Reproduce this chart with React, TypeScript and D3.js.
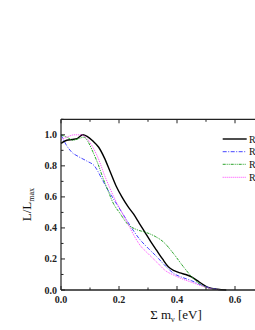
import React from "react";
import * as d3 from "d3";

const blackM = [0, 0.02, 0.04, 0.055, 0.075, 0.09, 0.11, 0.13, 0.15, 0.17, 0.19, 0.21, 0.23, 0.25, 0.27, 0.29, 0.31, 0.33, 0.35, 0.37, 0.39, 0.41, 0.43, 0.45, 0.47, 0.49, 0.51, 0.54, 0.57];
const blackV = [0.945, 0.965, 0.97, 0.975, 1.0, 0.99, 0.96, 0.92, 0.85, 0.76, 0.67, 0.6, 0.54, 0.49, 0.43, 0.37, 0.31, 0.255, 0.2, 0.15, 0.125, 0.11, 0.1, 0.085, 0.06, 0.035, 0.015, 0.005, 0];

const blueM = [0, 0.018, 0.036, 0.06, 0.09, 0.115, 0.14, 0.16, 0.18, 0.2, 0.22, 0.24, 0.27, 0.3, 0.33, 0.36, 0.39, 0.42, 0.45, 0.48, 0.51, 0.55];
const blueV = [1.0, 0.935, 0.89, 0.86, 0.83, 0.8, 0.72, 0.65, 0.59, 0.53, 0.47, 0.41, 0.33, 0.27, 0.215, 0.155, 0.105, 0.08, 0.06, 0.035, 0.015, 0];

const greenM = [0, 0.02, 0.041, 0.06, 0.08, 0.095, 0.11, 0.128, 0.145, 0.16, 0.18, 0.203, 0.232, 0.26, 0.295, 0.325, 0.353, 0.387, 0.422, 0.456, 0.49, 0.52, 0.55];
const greenV = [1.0, 0.985, 0.965, 0.975, 0.985, 0.95, 0.89, 0.81, 0.72, 0.65, 0.56, 0.495, 0.42, 0.39, 0.37, 0.345, 0.31, 0.237, 0.15, 0.075, 0.025, 0.008, 0];

const magentaM = [0, 0.02, 0.045, 0.07, 0.09, 0.105, 0.128, 0.15, 0.17, 0.19, 0.21, 0.23, 0.255, 0.272, 0.3, 0.33, 0.36, 0.39, 0.42, 0.45, 0.48, 0.51, 0.55];
const magentaV = [0.97, 0.985, 1.0, 1.0, 0.975, 0.935, 0.85, 0.74, 0.65, 0.57, 0.5, 0.43, 0.34, 0.29, 0.235, 0.18, 0.125, 0.095, 0.07, 0.05, 0.03, 0.012, 0];

const xTicks = [0, 0.2, 0.4, 0.6];
const yTicks = [0, 0.2, 0.4, 0.6, 0.8, 1.0];
const legendLabels = ["R", "R", "R", "R"];

const series = [
  { m: blackM, v: blackV, color: "#000000", width: 1.4, dash: "" },
  { m: blueM, v: blueV, color: "#3030ff", width: 0.9, dash: "4,1.5,1,1.5" },
  { m: greenM, v: greenV, color: "#119911", width: 0.9, dash: "3,1,1,1,1,1" },
  { m: magentaM, v: magentaV, color: "#ff30ff", width: 0.9, dash: "1,1" },
];

export default function App() {
  const left = 61, right = 264, top = 119.3, bottom = 290;
  const x = d3.scaleLinear().domain([0, 0.7]).range([left, right]);
  const y = d3.scaleLinear().domain([0, 1.1]).range([bottom, top]);
  const font = "Liberation Serif, DejaVu Serif, Times New Roman, serif";

  const xMinor = d3.range(0, 0.71, 0.1);
  const yMinor = d3.range(0, 1.11, 0.1);

  const line = (m: number[], v: number[]) =>
    d3.line<number>().x((_, i) => x(m[i])).y((d) => y(d)).curve(d3.curveMonotoneX)(v) || "";

  const legY = [139, 151.7, 164.3, 177.3];

  return (
    <svg width={255} height={330} style={{ position: "absolute", left: 0, top: 0, background: "#fff", fontFamily: font }}>
      {series.map((s, i) => (
        <path key={i} d={line(s.m, s.v)} fill="none" stroke={s.color} strokeWidth={s.width} strokeDasharray={s.dash || undefined} />
      ))}
      <line x1={left} x2={left} y1={top} y2={bottom} stroke="#222" strokeWidth={1.2} />
      <line x1={left} x2={right} y1={bottom} y2={bottom} stroke="#222" strokeWidth={1.4} />
      <line x1={left} x2={right} y1={top} y2={top} stroke="#222" strokeWidth={1.2} />
      {xMinor.map((t, i) => {
        const major = i % 2 === 0;
        const len = major ? 4 : 2.5;
        return (
          <g key={"xt" + i}>
            <line x1={x(t)} x2={x(t)} y1={bottom} y2={bottom - len} stroke="#222" strokeWidth={1} />
            <line x1={x(t)} x2={x(t)} y1={top} y2={top + len} stroke="#222" strokeWidth={1} />
          </g>
        );
      })}
      {yMinor.map((t, i) => {
        const major = i % 2 === 0;
        const len = major ? 4 : 2.5;
        return <line key={"yt" + i} x1={left} x2={left + len} y1={y(t)} y2={y(t)} stroke="#222" strokeWidth={1} />;
      })}
      {xTicks.map((t) => (
        <text key={"xl" + t} x={x(t)} y={303} textAnchor="middle" fontSize={10} fontWeight={600} fill="#222">
          {t.toFixed(1)}
        </text>
      ))}
      {yTicks.map((t) => (
        <text key={"yl" + t} x={57} y={y(t) + 3.5} textAnchor="end" fontSize={10} fontWeight={600} fill="#222">
          {t.toFixed(1)}
        </text>
      ))}
      <text transform={`translate(31,${(top + bottom) / 2}) rotate(-90)`} textAnchor="middle" fontSize={13} fill="#111">
        L/L<tspan fontSize={8} dy={3}>max</tspan>
      </text>
      <text x={176} y={319} textAnchor="middle" fontSize={13} fill="#111">
        Σ m<tspan fontSize={8} dy={3}>ν</tspan><tspan dy={-3}> [eV]</tspan>
      </text>
      {series.map((s, i) => (
        <g key={"lg" + i}>
          <line x1={222.7} x2={246.7} y1={legY[i]} y2={legY[i]} stroke={s.color} strokeWidth={s.width} strokeDasharray={s.dash || undefined} />
          <text x={249} y={legY[i] + 3.5} fontSize={10} fill="#111">{legendLabels[i]}</text>
        </g>
      ))}
    </svg>
  );
}
